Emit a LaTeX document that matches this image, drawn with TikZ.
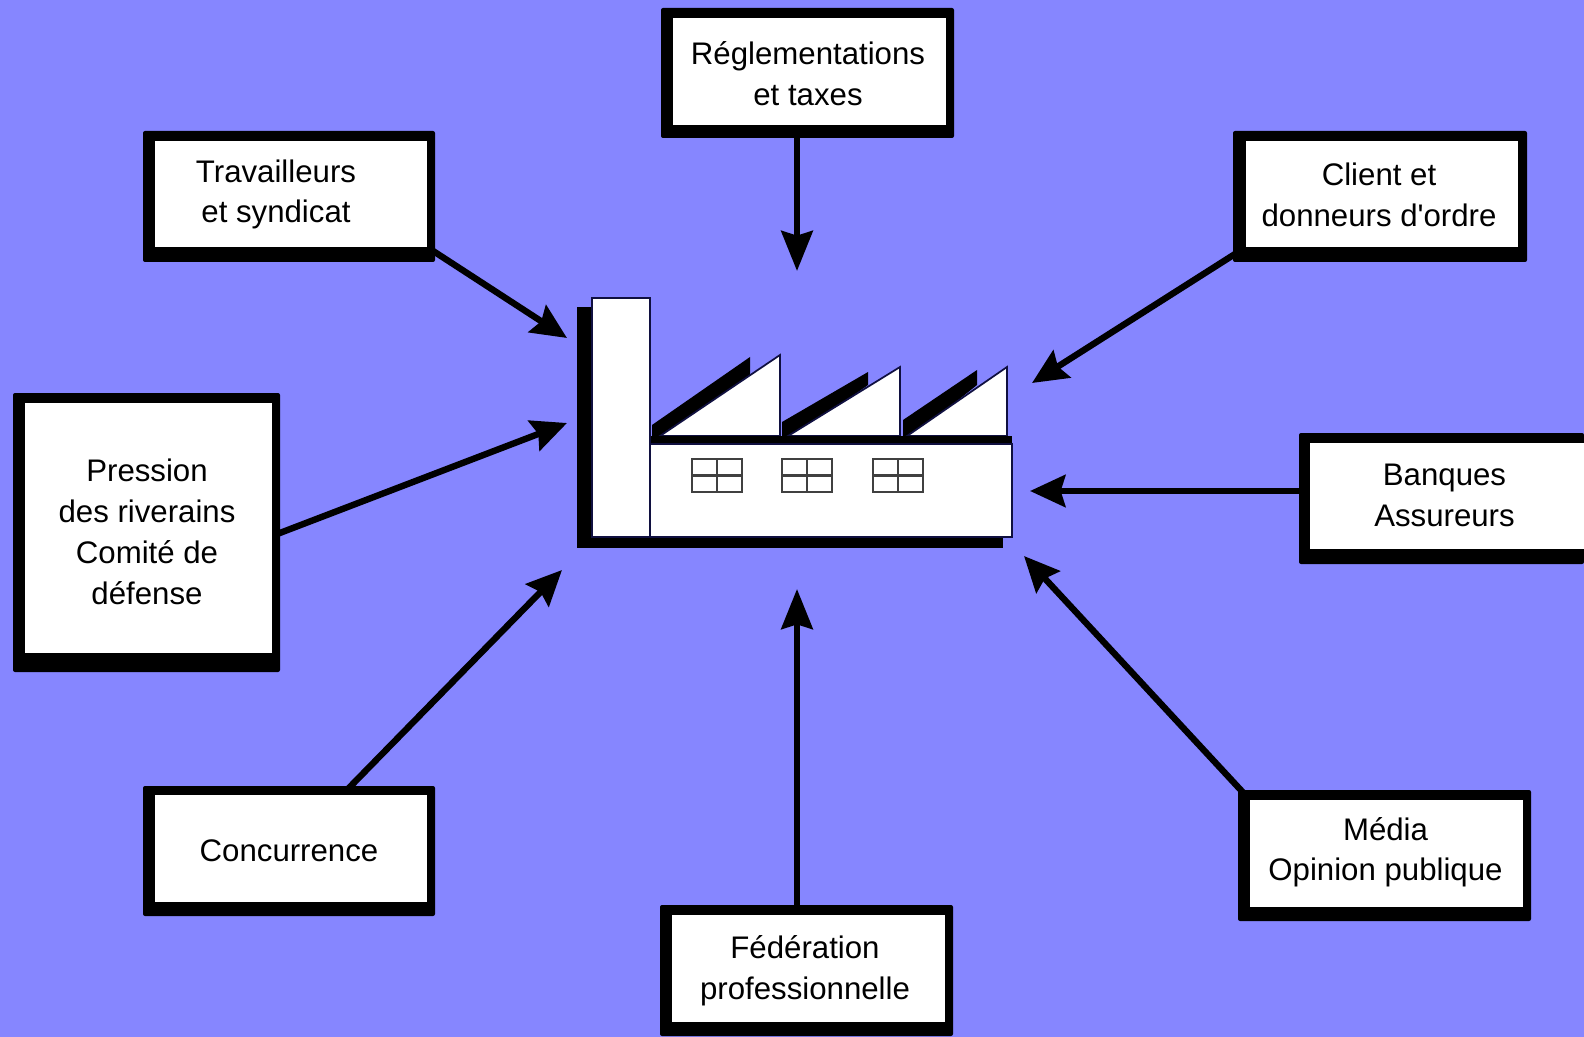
\documentclass[tikz,border=0pt]{standalone}
\usepackage{fontspec}
\setmainfont{Liberation Sans}
\usetikzlibrary{arrows.meta,backgrounds,calc}
\definecolor{bgblue}{HTML}{8686FF}
\definecolor{edgenavy}{HTML}{101040}
\tikzset{
  boxwhite/.style={fill=white,draw=none,inner sep=0pt,outer sep=0pt},
  boxtext/.style={inner sep=0pt,outer sep=0pt,align=center,text=black,font=\fontsize{23.4}{30.7}\selectfont},
  conn/.style={draw=black,line width=4.8pt,-{Stealth[length=26.5pt,width=24pt,inset=3.5pt]}},
  connlong/.style={draw=black,line width=4.8pt,-{Stealth[length=30pt,width=23.5pt,inset=3.5pt]}},
  wall/.style={fill=white,draw=edgenavy,line width=1.3pt},
  pane/.style={draw=black!75,line width=1.9pt},
}
\newcommand{\framedbox}[9]{%
  \begin{pgfonlayer}{background}
    \fill[black,rounded corners=1.5pt] (#2,#3) rectangle (#4,#5);
  \end{pgfonlayer}
  \node[boxwhite,minimum width={(#8-#6)*0.75pt},minimum height={(#9-#7)*0.75pt}] (#1) at ({(#6+#8)/2},{(#7+#9)/2}) {};
}
\newcommand{\factorywindow}[1]{%
  \draw[pane,fill=white] (#1,459) rectangle ++(50,33);
  \draw[pane] (#1+25,459) -- (#1+25,492);
  \draw[pane] (#1,475.5) -- (#1+50,475.5);
}
\newcommand{\st}{\strut}
\begin{document}
\begin{tikzpicture}[x=0.75pt,y=-0.75pt]
\useasboundingbox (0,0) rectangle (1584,1037);
\begin{pgfonlayer}{background}
  \fill[bgblue] (0,0) rectangle (1584,1037);
\end{pgfonlayer}

% boxes
\framedbox{regl}{661}{8}{954}{138}{673}{18}{946}{125}
\framedbox{trav}{143}{131}{435}{262}{155}{141}{427}{247}
\framedbox{client}{1233}{131}{1527}{262}{1246}{141}{1518}{247}
\framedbox{press}{13}{393}{280}{672}{25}{403}{272}{653}
\framedbox{banq}{1299}{433}{1584}{564}{1310}{443}{1584}{549}
\framedbox{conc}{143}{786}{435}{916}{155}{795}{427}{902}
\framedbox{media}{1238}{790}{1531}{921}{1250}{800}{1523}{907}
\framedbox{fed}{660}{905}{953}{1036}{672}{915}{945}{1022}

% labels
\node[boxtext] (reglT) at (808,77) {\st Réglementations\\\st et taxes};
\node[boxtext] (travT) at (276,194.3) {\st Travailleurs\\\st et syndicat};
\node[boxtext] (clientT) at (1379,197.5) {\st Client et\\\st donneurs d\textquotesingle ordre};
\node[boxtext] (pressT) at (147,535) {\st Pression\\\st des riverains\\\st Comité de\\\st défense};
\node[boxtext] (banqT) at (1444.5,497.5) {\st Banques\\\st Assureurs};
\node[boxtext] (concT) at (289,853.5) {\st Concurrence};
\node[boxtext] (mediaT) at (1385.5,852.3) {\st Média\\\st Opinion publique};
\node[boxtext] (fedT) at (805,970.5) {\st Fédération\\\st professionnelle};

% arrow targets
\coordinate (tipRegl) at (797,271);
\coordinate (tipTrav) at (567,338);
\coordinate (tipClient) at (1032,383);
\coordinate (tipPress) at (567,423);
\coordinate (tipBanq) at (1030,491);
\coordinate (tipConc) at (562,570);
\coordinate (tipMedia) at (1024,556);
\coordinate (tipFed) at (797,589);

% factory
\fill[black] (577,307) rectangle (600,548);
\fill[black] (577,530) rectangle (1003,548);
\fill[black] (650,436) rectangle (1012,446);
\fill[black] (652,425) -- (750,357) -- (750,375) -- (665,437) -- (652,437) -- cycle;
\fill[black] (782,422) -- (868,372) -- (868,385) -- (795,437) -- (782,437) -- cycle;
\fill[black] (903,420) -- (977,370) -- (977,385) -- (912,437) -- (903,437) -- cycle;
\draw[wall] (660,436) -- (780,355) -- (780,436) -- cycle;
\draw[wall] (788,436) -- (900,367) -- (900,436) -- cycle;
\draw[wall] (907,436) -- (1007,367) -- (1007,436) -- cycle;
\fill[black] (650,436) rectangle (1012,444);
\draw[wall] (592,298) rectangle (650,537);
\draw[wall] (650,444) rectangle (1012,537);
\factorywindow{692}
\factorywindow{782}
\factorywindow{873}

% connectors
\begin{pgfonlayer}{background}
  \draw[connlong] (regl.south -| tipRegl) -- (tipRegl);
  \draw[conn] (trav.south east) -- (tipTrav);
  \draw[conn] (client.south west) -- (tipClient);
  \draw[conn] ($(press.east)+(0,8)$) -- (tipPress);
  \draw[conn] (banq.west |- tipBanq) -- (tipBanq);
  \draw[conn] ($(conc.north)+(51,0)$) -- (tipConc);
  \draw[conn] (media.north west) -- (tipMedia);
  \draw[connlong] (fed.north -| tipFed) -- (tipFed);
\end{pgfonlayer}
\end{tikzpicture}
\end{document}
